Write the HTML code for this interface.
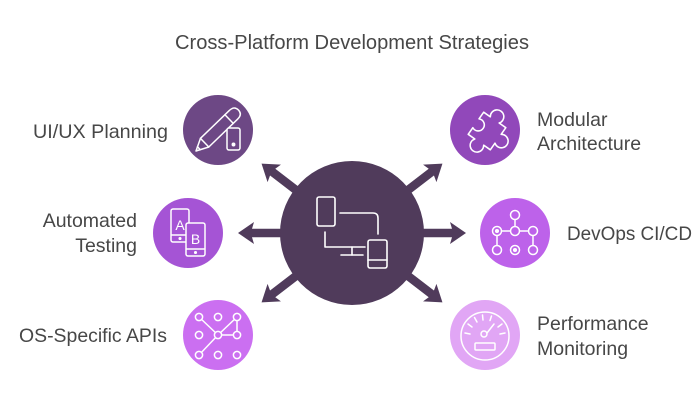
<!DOCTYPE html>
<html><head><meta charset="utf-8"><style>
html,body{margin:0;padding:0;background:#fff;}
svg{display:block;}
text{font-family:"Liberation Sans",Arial,sans-serif;fill:#474747;}
</style></head><body>
<svg width="700" height="400" viewBox="0 0 700 400" xmlns="http://www.w3.org/2000/svg">
<rect width="700" height="400" fill="#fff"/>
<text x="352" y="49" font-size="20" text-anchor="middle" textLength="354" lengthAdjust="spacingAndGlyphs">Cross-Platform Development Strategies</text>

<!-- arrows -->
<g fill="#503b5b">
  <g transform="translate(352,233)">
    <polygon id="arr" points="60,-4.3 100,-4.3 98,-11 114,0 98,11 100,4.3 60,4.3"/>
    <use href="#arr" transform="rotate(180)"/>
    <use href="#arr" transform="rotate(-37.5)"/>
    <use href="#arr" transform="rotate(37.5)"/>
    <use href="#arr" transform="rotate(-142.5)"/>
    <use href="#arr" transform="rotate(142.5)"/>
  </g>
</g>

<!-- center circle -->
<circle cx="352" cy="233" r="72" fill="#503b5b"/>
<g fill="none" stroke="#fff" stroke-width="1.6" stroke-linecap="round" stroke-linejoin="round">
  <rect x="317" y="197" width="18" height="29" rx="2"/>
  <path d="M340,213 L373,213 Q378,213 378,218 L378,234"/>
  <path d="M325,232 L325,247 L365,247"/>
  <path d="M352,247 L352,255"/>
  <path d="M341,255 L363,255"/>
  <rect x="368" y="240" width="19" height="28" rx="2"/>
  <path d="M368,260 L387,260"/>
</g>

<!-- UI/UX -->
<circle cx="218" cy="130" r="35" fill="#6d4885"/>
<g fill="none" stroke="#fff" stroke-width="1.5" stroke-linejoin="round" stroke-linecap="round">
  <g transform="translate(196,151) rotate(-44)">
    <path d="M0,0 L12,-6 L52,-6 Q59,-6 59,0 Q59,6 52,6 L12,6 Z"/>
    <path d="M12,-6 L12,6"/>
    <path d="M46,-6 L46,6"/>
    <path d="M4,-2 L4,2"/>
  </g>
  <rect x="227" y="128" width="13" height="22" rx="2" fill="#6d4885"/>
  <circle cx="233.5" cy="144.5" r="1.2" fill="#fff"/>
</g>
<text x="168" y="138" font-size="19.5" text-anchor="end" textLength="135" lengthAdjust="spacingAndGlyphs">UI/UX Planning</text>

<!-- Automated Testing -->
<circle cx="188" cy="233" r="35" fill="#a554d5"/>
<g fill="none" stroke="#fff" stroke-width="1.5" stroke-linejoin="round">
  <rect x="171" y="209" width="18" height="33" rx="2"/>
  <path d="M171,235 L189,235"/>
  <circle cx="180" cy="238.5" r="0.8" fill="#fff"/>
  <rect x="186" y="223" width="19" height="33" rx="2" fill="#a554d5"/>
  <path d="M186,249 L205,249"/>
  <circle cx="195.5" cy="252.5" r="0.8" fill="#fff"/>
</g>
<text x="180" y="230" font-size="14" text-anchor="middle" style="fill:#fff">A</text>
<text x="195.5" y="244" font-size="14" text-anchor="middle" style="fill:#fff">B</text>
<text x="137" y="227" font-size="19.5" text-anchor="end">Automated</text>
<text x="137" y="252" font-size="19.5" text-anchor="end">Testing</text>

<!-- OS-Specific APIs -->
<circle cx="218" cy="335" r="35" fill="#cb6ff1"/>
<g fill="none" stroke="#fff" stroke-width="1.5">
  <path d="M199,317 L218,335 L237,317 L237,335 L218,335 L199,355"/>
  <g fill="#cb6ff1">
    <circle cx="199" cy="317" r="3.6"/><circle cx="218" cy="317" r="3.6"/><circle cx="237" cy="317" r="3.6"/>
    <circle cx="199" cy="335" r="3.6"/><circle cx="218" cy="335" r="3.6"/><circle cx="237" cy="335" r="3.6"/>
    <circle cx="199" cy="355" r="3.6"/><circle cx="218" cy="355" r="3.6"/><circle cx="237" cy="355" r="3.6"/>
  </g>
</g>
<text x="167" y="342" font-size="19.5" text-anchor="end" textLength="148" lengthAdjust="spacingAndGlyphs">OS-Specific APIs</text>

<!-- Modular Architecture -->
<circle cx="485" cy="130" r="35" fill="#9148ba"/>
<g transform="translate(487,131) rotate(35) scale(1.35)" fill="none" stroke="#fff" stroke-width="1.15" stroke-linejoin="round">
  <path d="M-10,-10 L-4,-10 A5,5 0 1 1 4,-10 L10,-10 L10,-4 A5,5 0 1 1 10,4 L10,10 L4,10 A5,5 0 1 1 -4,10 L-10,10 L-10,4 A4.5,4.5 0 1 0 -10,-4 Z"/>
</g>
<text x="537" y="126" font-size="19.5">Modular</text>
<text x="537" y="150" font-size="19.5">Architecture</text>

<!-- DevOps CI/CD -->
<circle cx="515" cy="233" r="35" fill="#bd62ea"/>
<g fill="none" stroke="#fff" stroke-width="1.5">
  <path d="M515,215 L515,231 M497,231 L533,231 M497,231 L497,250 M533,231 L533,250"/>
  <g fill="#bd62ea">
    <circle cx="515" cy="215" r="4.5"/>
    <circle cx="497" cy="231" r="4.5"/><circle cx="515" cy="231" r="4.5"/><circle cx="533" cy="231" r="4.5"/>
    <circle cx="497" cy="250" r="4.5"/><circle cx="515" cy="250" r="4.5"/><circle cx="533" cy="250" r="4.5"/>
  </g>
  <circle cx="497" cy="231" r="1.3" fill="#fff"/>
  <circle cx="515" cy="250" r="1.3" fill="#fff"/>
</g>
<text x="567" y="240" font-size="19.5" textLength="125" lengthAdjust="spacingAndGlyphs">DevOps CI/CD</text>

<!-- Performance Monitoring -->
<circle cx="485" cy="335" r="35" fill="#e1a6f5"/>
<g fill="none" stroke="#fff" stroke-width="1.5" stroke-linecap="round">
  <circle cx="485" cy="336" r="24"/>
  <g transform="translate(485,336)">
    <path d="M-15,-2 L-20,-3"/>
    <path d="M-13,-9 L-17,-12"/>
    <path d="M-8,-14 L-10.5,-18.5"/>
    <path d="M-2,-16 L-2.5,-21"/>
    <path d="M5,-15.5 L6.5,-20"/>
    <path d="M13,-9 L17,-12"/>
    <path d="M15,-2 L20,-3"/>
    <path d="M2,-3 L9,-12"/>
  </g>
  <circle cx="484" cy="334" r="3"/>
  <rect x="475" y="343" width="20" height="7" rx="1"/>
</g>
<text x="537" y="330" font-size="19.5">Performance</text>
<text x="537" y="355" font-size="19.5">Monitoring</text>
</svg>
</body></html>
